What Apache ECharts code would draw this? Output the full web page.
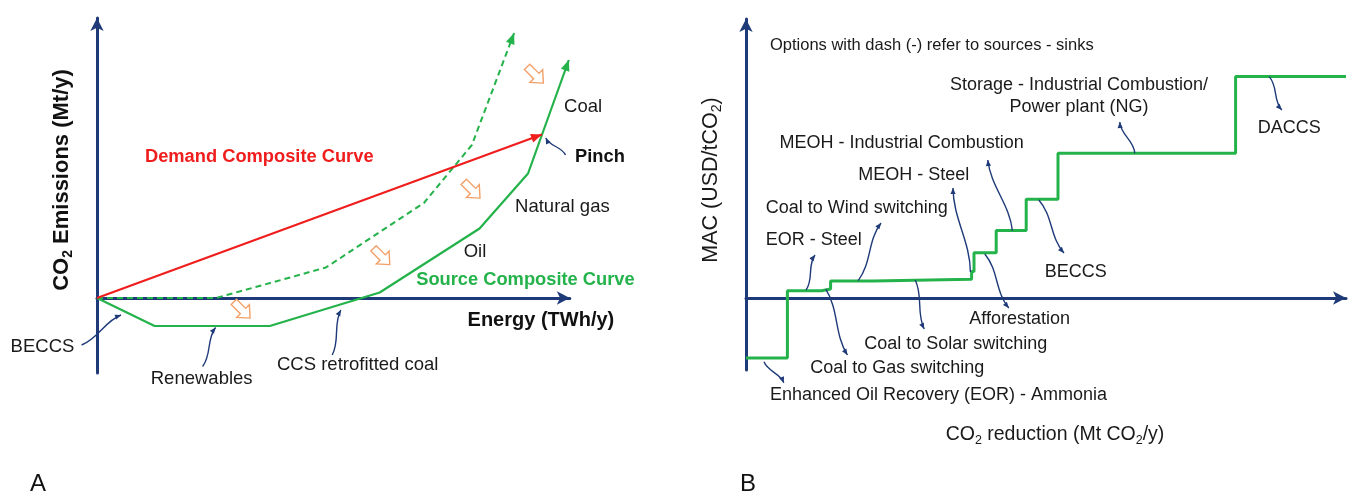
<!DOCTYPE html>
<html>
<head>
<meta charset="utf-8">
<script src="https://cdn.jsdelivr.net/npm/echarts@6/dist/echarts.min.js"></script>
<style>
  html, body { margin: 0; padding: 0; background: #fff; }
  #main { width: 1356px; height: 497px; }
</style>
</head>
<body>
<div id="main"></div>
<script>
// ---- panel A: emissions vs energy (schematic units) ----
const sourceCurve = [[0, 0], [12, -5.6], [36, -5.6], [58.9, 1.1], [79.7, 13.9], [89.8, 24.9], [98.3, 47.6]];
const shiftedSource = [[0, 0], [24.8, 0], [47.7, 6.1], [68.1, 19], [78.1, 30.6], [86.9, 53]];
const demandCurve = [[0, 0], [92.7, 32.7]];
const shiftMarks = [[91.3, 44.6], [78.1, 21.6], [59.3, 8.3], [30.2, -2.4]];

// ---- panel B: MAC curve ----
const macOptions = ['EOR - Ammonia', 'EOR - Steel', 'Coal to Gas', 'Coal to Wind', 'Coal to Solar',
  'MEOH - Steel', 'Afforestation', 'MEOH - Industrial Combustion', 'BECCS', 'Storage', 'DACCS'];
const macStart = [0, 6.9, 12.6, 14.1, 21.2, 37.6, 38.0, 41.7, 46.7, 52.0, 81.6];
const macValue = [-30, 3.6, 4.5, 8.5, 9.4, 13.2, 22.6, 33.7, 49.4, 72.4, 110.7];
const macEnd = 100;

// annotation labels: [text, x, y, kind]
const notesA = [
  ['Demand Composite Curve', 10, 28.2, 'red'],
  ['Coal', 97.3, 38.2, 'plain'],
  ['Pinch', 99.6, 28.2, 'bold'],
  ['Natural gas', 87.1, 18.2, 'plain'],
  ['Oil', 76.4, 9.3, 'plain'],
  ['Source Composite Curve', 66.5, 3.7, 'green'],
  ['Energy (TWh/y)', 77.2, -4.4, 'axis'],
  ['BECCS', -18, -9.7, 'plain'],
  ['Renewables', 11.2, -16.1, 'plain'],
  ['CCS retrofitted coal', 37.5, -13.4, 'plain']
];
const notesB = [
  ['Options with dash (-) refer to sources - sinks', 4, 126.5, 'left'],
  ['Storage - Industrial Combustion/\nPower plant (NG)', 55.5, 101, 'center'],
  ['DACCS', 85.3, 85, 'left'],
  ['MEOH - Industrial Combustion', 5.6, 77.5, 'left'],
  ['MEOH - Steel', 18.7, 61.5, 'left'],
  ['Coal to Wind switching', 3.3, 45, 'left'],
  ['EOR - Steel', 3.3, 29, 'left'],
  ['BECCS', 49.8, 13, 'left'],
  ['Afforestation', 37.2, -10.5, 'left'],
  ['Coal to Solar switching', 19.7, -23, 'left'],
  ['Coal to Gas switching', 10.7, -35, 'left'],
  ['Enhanced Oil Recovery (EOR) - Ammonia', 4, -48.5, 'left']
];
// pointer arrows: [fromX, fromY, toX, toY, bend]
const pointersA = [
  [97.6, 28.6, 93.5, 32.0, 4],
  [-3.2, -9.4, 5, -3.4, 5],
  [22, -13.7, 24.7, -5.9, 5],
  [49, -11.4, 50.8, -2.4, 5]
];
const pointersB = [
  [3, -31.9, 6.3, -42.4, 4],
  [10, 4, 11.5, 21.5, 5],
  [13.3, 4.4, 16.9, -28.5, -6],
  [18.7, 8.7, 22.5, 37.5, 6],
  [28.2, 9, 29.7, -15.5, -5],
  [37.4, 13, 34.5, 55, 6],
  [39.8, 22, 43.8, -5, -6],
  [44.4, 33.7, 40.3, 69, 6],
  [48.8, 49, 53, 22.5, -6],
  [64.8, 72.4, 62.3, 88, 5],
  [87.2, 110.7, 89.3, 94, -5]
];

const navy = '#1E3A78';
const green = '#24B24A';
const red = '#F01D1D';
const orange = '#F2A068';
const font = '"Liberation Sans", Arial, sans-serif';

const macLine = macStart.map((x, i) => [x, macValue[i]]);
macLine.push([macEnd, macValue[macValue.length - 1]]);

function headPoints(tip, from, len, half) {
  const dx = tip[0] - from[0], dy = tip[1] - from[1];
  const d = Math.hypot(dx, dy) || 1;
  const ux = dx / d, uy = dy / d;
  const bx = tip[0] - ux * len, by = tip[1] - uy * len;
  return [[tip[0], tip[1]], [bx - uy * half, by + ux * half], [bx + uy * half, by - ux * half]];
}

function renderPointer(params, api) {
  const a = api.coord([api.value(0), api.value(1)]);
  const b = api.coord([api.value(2), api.value(3)]);
  const bend = api.value(4);
  const dx = b[0] - a[0], dy = b[1] - a[1], d = Math.hypot(dx, dy);
  const nx = -dy / d * bend, ny = dx / d * bend;
  const c1 = [a[0] + dx * 0.35 + nx, a[1] + dy * 0.35 + ny];
  const c2 = [a[0] + dx * 0.65 - nx, a[1] + dy * 0.65 - ny];
  return {
    type: 'group',
    children: [
      { type: 'bezierCurve', shape: { x1: a[0], y1: a[1], x2: b[0], y2: b[1], cpx1: c1[0], cpy1: c1[1], cpx2: c2[0], cpy2: c2[1] },
        style: { stroke: navy, lineWidth: 1.4, fill: null } },
      { type: 'polygon', shape: { points: headPoints(b, c2, 6, 2.6) }, style: { fill: navy } }
    ]
  };
}

// hollow block arrows showing the shift of the source curve
function renderShift(params, api) {
  const c = api.coord([api.value(0), api.value(1)]);
  const pts = [[-11.5, -3.8], [1.5, -3.8], [1.5, -9], [11.5, 0], [1.5, 9], [1.5, 3.8], [-11.5, 3.8]];
  const cs = Math.cos(Math.PI / 4), sn = Math.sin(Math.PI / 4);
  return {
    type: 'polygon',
    shape: { points: pts.map(p => [c[0] + p[0] * cs - p[1] * sn, c[1] + p[0] * sn + p[1] * cs]) },
    style: { fill: '#fff', stroke: orange, lineWidth: 1.4 }
  };
}

// arrow heads at the end of the composite curves
const headsA = [
  [demandCurve[0], demandCurve[1], red],
  [sourceCurve[sourceCurve.length - 2], sourceCurve[sourceCurve.length - 1], green],
  [shiftedSource[shiftedSource.length - 2], shiftedSource[shiftedSource.length - 1], green]
];
function renderHead(params, api) {
  const from = api.coord([api.value(0), api.value(1)]);
  const tip = api.coord([api.value(2), api.value(3)]);
  return { type: 'polygon', shape: { points: headPoints(tip, from, 11, 4.5) }, style: { fill: headsA[params.dataIndex][2] } };
}

const kindStyle = {
  red: { fill: red, font: 'bold 18.3px ' + font },
  green: { fill: green, font: 'bold 18.3px ' + font },
  bold: { fill: '#111', font: 'bold 18.3px ' + font },
  axis: { fill: '#111', font: 'bold 20px ' + font },
  plain: { fill: '#1a1a1a', font: '18.5px ' + font }
};
function renderNoteA(params, api) {
  const row = notesA[params.dataIndex];
  const p = api.coord([row[1], row[2]]);
  return { type: 'text', x: p[0], y: p[1],
    style: Object.assign({ text: row[0], align: 'left', verticalAlign: 'middle' }, kindStyle[row[3]]) };
}
function renderNoteB(params, api) {
  const row = notesB[params.dataIndex];
  const p = api.coord([row[1], row[2]]);
  const size = params.dataIndex === 0 ? 16.5 : 18;
  return { type: 'text', x: p[0], y: p[1],
    style: { text: row[0], align: row[3], verticalAlign: 'middle', fill: '#1a1a1a', font: size + 'px ' + font, lineHeight: 22 } };
}

function plainAxis(grid, min, max) {
  return {
    gridIndex: grid, type: 'value', min: min, max: max,
    axisLine: { show: true, symbol: ['none', 'arrow'], symbolSize: [10, 13], lineStyle: { color: navy, width: 3 } },
    axisTick: { show: false }, axisLabel: { show: false }, splitLine: { show: false }
  };
}

const chart = echarts.init(document.getElementById('main'));
const option = {
  animation: false,
  backgroundColor: '#fff',
  grid: [
    { left: 97, top: 18, width: 472.8, height: 355 },
    { left: 746, top: 19, width: 600, height: 351 }
  ],
  xAxis: [plainAxis(0, 0, 98.5), plainAxis(1, 0, 100)],
  yAxis: [plainAxis(0, -15, 56), plainAxis(1, -36, 139.5)],
  graphic: [
    { type: 'text', x: 62, y: 180, rotation: Math.PI / 2,
      style: { text: '{b|CO}{s|2}{b| Emissions (Mt/y)}', align: 'center', verticalAlign: 'middle', fill: '#111',
        rich: { b: { fontSize: 22, fontWeight: 'bold', fontFamily: 'Liberation Sans', lineHeight: 26, fill: '#111' },
                s: { fontSize: 14, fontWeight: 'bold', fontFamily: 'Liberation Sans', lineHeight: 12, verticalAlign: 'bottom', fill: '#111' } } } },
    { type: 'text', x: 711, y: 180, rotation: Math.PI / 2,
      style: { text: '{b|MAC (USD/tCO}{s|2}{b|)}', align: 'center', verticalAlign: 'middle', fill: '#1a1a1a',
        rich: { b: { fontSize: 21.5, fontFamily: 'Liberation Sans', lineHeight: 26, fill: '#1a1a1a' },
                s: { fontSize: 14, fontFamily: 'Liberation Sans', lineHeight: 12, verticalAlign: 'bottom', fill: '#1a1a1a' } } } },
    { type: 'text', x: 1055, y: 435,
      style: { text: '{b|CO}{s|2}{b| reduction (Mt CO}{s|2}{b|/y)}', align: 'center', verticalAlign: 'middle', fill: '#1a1a1a',
        rich: { b: { fontSize: 19.5, fontFamily: 'Liberation Sans', lineHeight: 24, fill: '#1a1a1a' },
                s: { fontSize: 12.5, fontFamily: 'Liberation Sans', lineHeight: 11, verticalAlign: 'bottom', fill: '#1a1a1a' } } } },
    { type: 'text', x: 30, y: 484, style: { text: 'A', font: '24px ' + font, fill: '#111', verticalAlign: 'middle' } },
    { type: 'text', x: 740, y: 484, style: { text: 'B', font: '24px ' + font, fill: '#111', verticalAlign: 'middle' } }
  ],
  series: [
    { name: 'Shifted source', type: 'line', xAxisIndex: 0, yAxisIndex: 0, data: shiftedSource, showSymbol: false,
      lineStyle: { color: green, width: 2, type: [6, 4] }, z: 3 },
    { name: 'Source Composite Curve', type: 'line', xAxisIndex: 0, yAxisIndex: 0, data: sourceCurve, showSymbol: false,
      lineStyle: { color: green, width: 2.2 }, z: 3 },
    { name: 'Demand Composite Curve', type: 'line', xAxisIndex: 0, yAxisIndex: 0, data: demandCurve, showSymbol: false,
      lineStyle: { color: red, width: 2.2 }, z: 4 },
    { type: 'custom', xAxisIndex: 0, yAxisIndex: 0, renderItem: renderHead, z: 5,
      data: headsA.map(h => [h[0][0], h[0][1], h[1][0], h[1][1]]) },
    { type: 'custom', xAxisIndex: 0, yAxisIndex: 0, renderItem: renderShift, z: 5, data: shiftMarks },
    { type: 'custom', xAxisIndex: 0, yAxisIndex: 0, renderItem: renderPointer, z: 6, data: pointersA },
    { type: 'custom', xAxisIndex: 0, yAxisIndex: 0, renderItem: renderNoteA, z: 6,
      data: notesA.map(n => [n[1], n[2]]) },

    { name: 'MAC', type: 'line', step: 'end', xAxisIndex: 1, yAxisIndex: 1, data: macLine, showSymbol: false,
      lineStyle: { color: green, width: 3 }, z: 3 },
    { type: 'custom', xAxisIndex: 1, yAxisIndex: 1, renderItem: renderPointer, z: 6, data: pointersB },
    { type: 'custom', xAxisIndex: 1, yAxisIndex: 1, renderItem: renderNoteB, z: 6,
      data: notesB.map(n => [n[1], n[2]]) }
  ]
};
chart.setOption(option);
</script>
</body>
</html>
